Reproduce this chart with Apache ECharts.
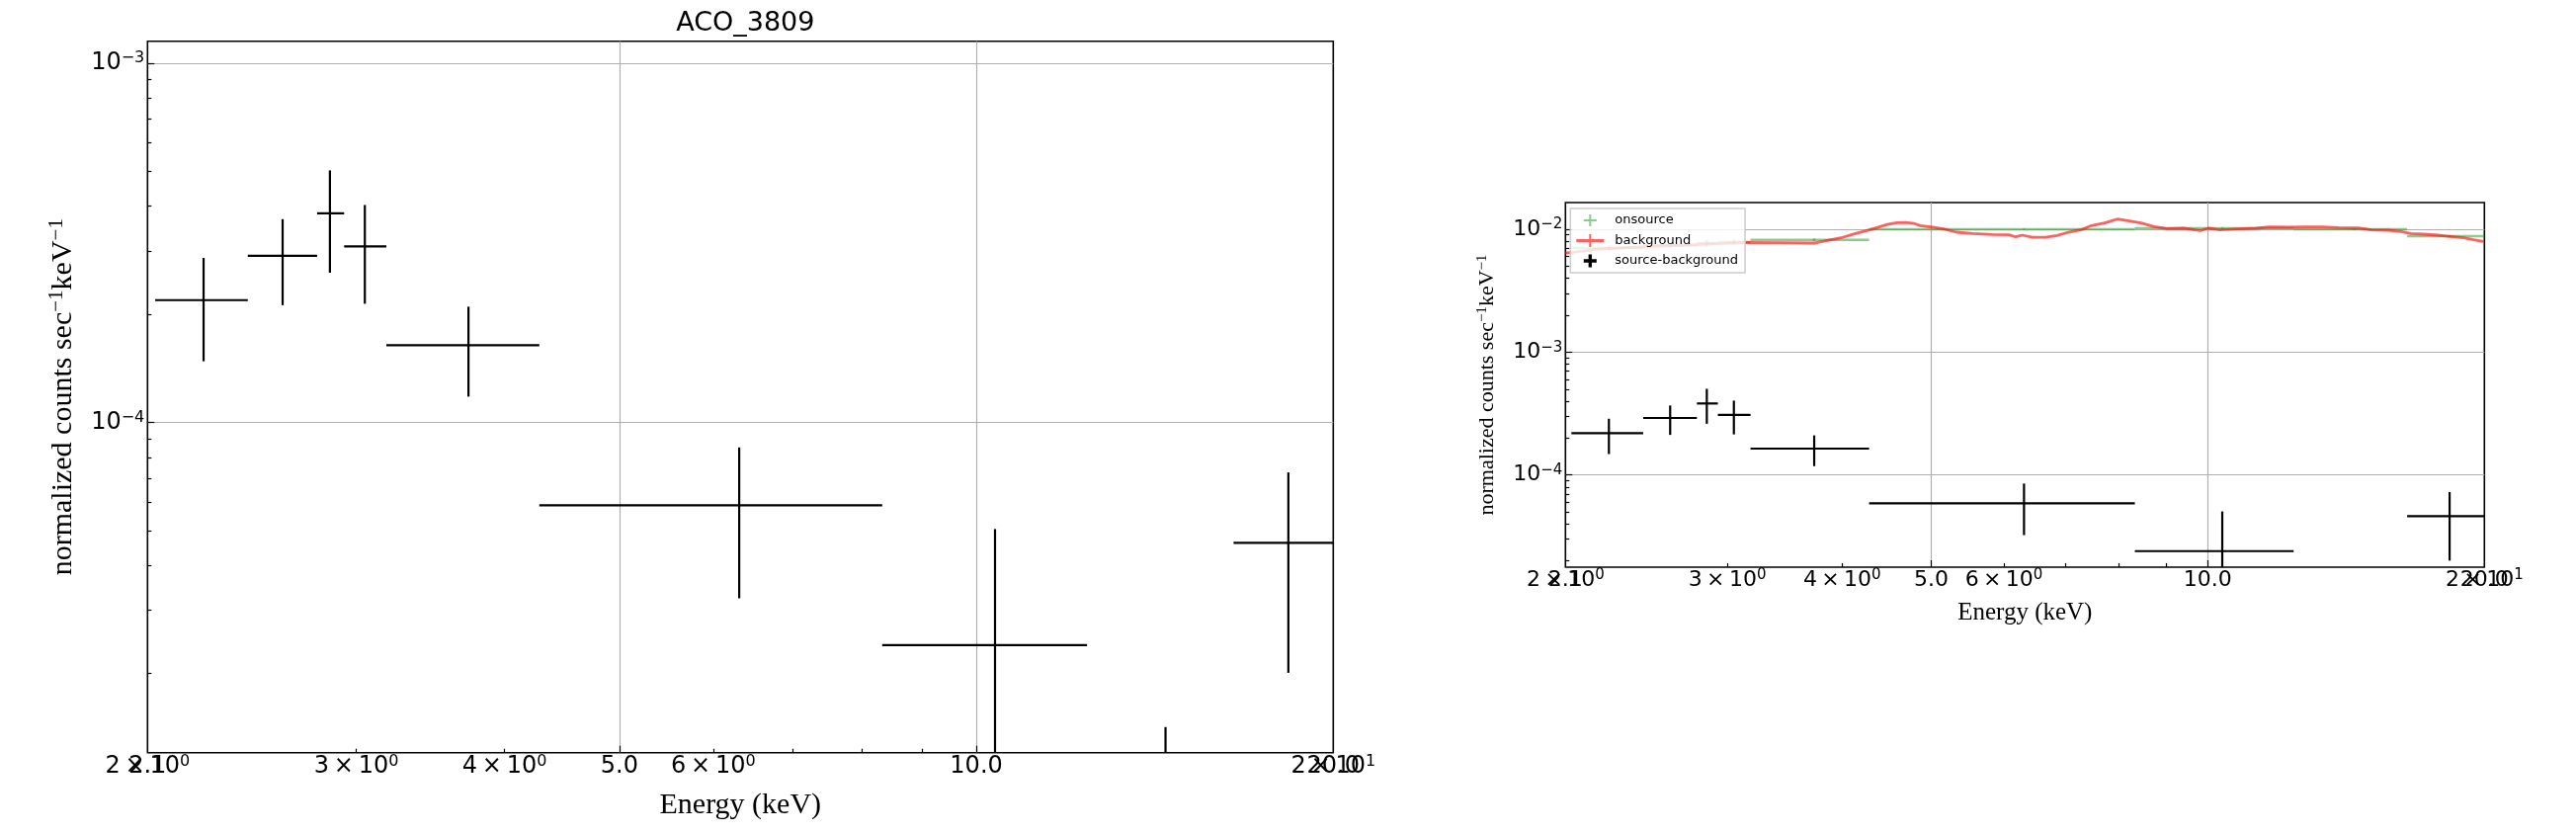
<!DOCTYPE html>
<html>
<head>
<meta charset="utf-8">
<script src="https://cdn.jsdelivr.net/npm/echarts@6/dist/echarts.min.js"></script>
<style>
html,body{margin:0;padding:0;background:#fff;}
#c{width:2607px;height:842px;}
</style>
</head>
<body>
<div id="c"></div>
<script>
// ---------------- data ----------------
const binLo     = [2.03, 2.43, 2.78, 2.93, 3.18, 4.28, 8.33, 12.40, 16.48];
const binHi     = [2.43, 2.78, 2.93, 3.18, 4.28, 8.33, 12.40, 16.48, 20.40];
const binCenter = [2.23, 2.60, 2.85, 3.05, 3.73, 6.31, 10.37, 14.44, 18.33];

// source - background (normalized counts / s / keV)
const srcBkg     = [2.19e-4, 2.91e-4, 3.82e-4, 3.09e-4, 1.64e-4, 5.88e-5, 2.40e-5, 2.0e-6, 4.62e-5];
const srcBkgLow  = [1.48e-4, 2.12e-4, 2.61e-4, 2.14e-4, 1.18e-4, 3.24e-5, null, null, 2.01e-5];
const srcBkgHigh = [2.87e-4, 3.68e-4, 5.03e-4, 4.03e-4, 2.10e-4, 8.52e-5, 5.05e-5, 1.42e-5, 7.26e-5];

// onsource
const onsrc    = [7.03e-3, 7.40e-3, 7.70e-3, 7.86e-3, 8.20e-3, 1.00e-2, 1.02e-2, 1.00e-2, 8.78e-3];
const onsrcErr = [3.0e-4, 3.2e-4, 4.5e-4, 3.6e-4, 2.0e-4, 1.2e-4, 1.4e-4, 1.6e-4, 1.8e-4];

// background spectrum
const bkgE = [2.000, 2.185, 2.535, 2.941, 3.152, 3.412, 3.737, 3.831, 3.988, 4.126,
              4.296, 4.479, 4.592, 4.688, 4.786, 4.865, 5.000, 5.156, 5.328, 5.554,
              5.834, 6.079, 6.181, 6.284, 6.442, 6.658, 6.853, 7.053, 7.290, 7.473,
              7.723, 7.971, 8.182, 8.458, 8.741, 9.034, 9.414, 9.813, 10.02, 10.31,
              10.83, 11.29, 11.67, 12.26, 12.78, 13.32, 13.88, 14.58, 15.07, 15.71,
              16.23, 16.64, 17.20, 17.78, 18.37, 18.98, 19.46, 19.95];
const bkgRate = [6.41e-3, 6.91e-3, 7.30e-3, 7.64e-3, 7.79e-3, 7.76e-3, 7.72e-3, 8.01e-3, 8.51e-3, 9.17e-3,
                 9.94e-3, 1.093e-2, 1.132e-2, 1.138e-2, 1.117e-2, 1.071e-2, 1.043e-2, 1.006e-2, 9.46e-3, 9.23e-3,
                 9.07e-3, 9.00e-3, 8.67e-3, 8.95e-3, 8.62e-3, 8.62e-3, 8.90e-3, 9.46e-3, 9.94e-3, 1.071e-2,
                 1.124e-2, 1.210e-2, 1.175e-2, 1.124e-2, 1.051e-2, 1.013e-2, 1.019e-2, 9.76e-3, 1.019e-2, 9.87e-3,
                 1.006e-2, 1.019e-2, 1.043e-2, 1.038e-2, 1.043e-2, 1.043e-2, 1.032e-2, 1.024e-2, 9.87e-3, 9.82e-3,
                 9.58e-3, 9.23e-3, 9.12e-3, 8.95e-3, 8.74e-3, 8.51e-3, 8.20e-3, 7.96e-3];

// ---------------- axes / ticks ----------------
const xMin = 2.0, xMax = 20.0;
const xSciTickValues = [2, 3, 4, 6, 20];
const xSciTickMant   = ['2', '3', '4', '6', '2'];
const xSciTickExp    = ['0', '0', '0', '0', '1'];
const xPlainTickValues = [2, 5, 10, 20];
const xPlainTickLabels = ['2.1', '5.0', '10.0', '20.0'];
const xMajorTicks = [5, 10];
const xMinorTicks = [3, 4, 6, 7, 8, 9];

const yTickValues = [1e-4, 1e-3, 1e-2];
const yTickExps   = ['−4', '−3', '−2'];
const yMinorTicks = [2e-5, 3e-5, 4e-5, 5e-5, 6e-5, 7e-5, 8e-5, 9e-5,
                     2e-4, 3e-4, 4e-4, 5e-4, 6e-4, 7e-4, 8e-4, 9e-4,
                     2e-3, 3e-3, 4e-3, 5e-3, 6e-3, 7e-3, 8e-3, 9e-3];
const yRangeLeft  = [1.205e-5, 1.151e-3];
const yRangeRight = [1.777e-5, 1.649e-2];

const FONT = 'DejaVu Sans';
const SERIF = 'Liberation Serif';
const GRIDC = '#b0b0b0';

function findIdx(vals, v) {
  for (let i = 0; i < vals.length; i++) if (Math.abs(v / vals[i] - 1) < 1e-6) return i;
  return -1;
}
function rich(fs, sfs, lh, slh, fam) {
  return {
    m: {fontFamily: fam || FONT, fontSize: fs, lineHeight: lh, color: '#000'},
    s: {fontFamily: fam || FONT, fontSize: sfs, lineHeight: slh, verticalAlign: 'top', color: '#000'}
  };
}
const tickLine = {color: '#000', width: 1.2};

function xAxesFor(gi, fs, sfs, lh, slh, nameFs, nameGap) {
  return [
    {
      gridIndex: gi, type: 'log', logBase: 10, min: xMin, max: xMax, position: 'bottom',
      axisLine: {show: false, onZero: false},
      axisTick: {show: true, inside: true, length: 4, customValues: xMinorTicks, lineStyle: tickLine},
      axisLabel: {
        show: true, margin: 1, customValues: xSciTickValues, rich: rich(fs, sfs, lh, slh),
        formatter: function (v) {
          const i = findIdx(xSciTickValues, v);
          return i < 0 ? '' : '{m|' + xSciTickMant[i] + '\u2009×\u200910}{s|' + xSciTickExp[i] + '}';
        }
      },
      splitLine: {show: false}
    },
    {
      gridIndex: gi, type: 'log', logBase: 10, min: xMin, max: xMax, position: 'bottom',
      axisLine: {show: false, onZero: false},
      axisTick: {show: true, inside: true, length: 7, customValues: xMajorTicks, lineStyle: tickLine},
      axisLabel: {
        show: true, margin: 1, customValues: xPlainTickValues, rich: rich(fs, sfs, lh, slh),
        formatter: function (v) {
          const i = findIdx(xPlainTickValues, v);
          return i < 0 ? '' : '{m|' + xPlainTickLabels[i] + '}';
        }
      },
      splitLine: {show: true, lineStyle: {color: GRIDC, width: 1.2}},
      name: 'Energy (keV)', nameLocation: 'middle', nameGap: nameGap,
      nameTextStyle: {fontFamily: SERIF, fontSize: nameFs, color: '#000'}
    }
  ];
}
function yAxesFor(gi, range, fs, sfs, lh, slh, nameFs, nameSupFs, nameGap) {
  return [
    {
      gridIndex: gi, type: 'log', logBase: 10, min: range[0], max: range[1], position: 'left',
      axisLine: {show: false, onZero: false},
      axisTick: {show: true, inside: true, length: 7, customValues: yTickValues, lineStyle: tickLine},
      axisLabel: {
        show: true, margin: 3, customValues: yTickValues, rich: rich(fs, sfs, lh, slh),
        formatter: function (v) {
          const i = findIdx(yTickValues, v);
          return i < 0 ? '' : '{m|10}{s|' + yTickExps[i] + '}';
        }
      },
      splitLine: {show: true, lineStyle: {color: GRIDC, width: 1.2}},
      name: '{t|normalized counts sec}{u|−1}{t|keV}{u|−1}',
      nameLocation: 'middle', nameRotate: 90, nameGap: nameGap,
      nameTextStyle: {
        rich: {
          t: {fontFamily: SERIF, fontSize: nameFs, lineHeight: nameFs + 4, color: '#000'},
          u: {fontFamily: SERIF, fontSize: nameSupFs, lineHeight: nameSupFs, verticalAlign: 'top', color: '#000'}
        }
      }
    },
    {
      gridIndex: gi, type: 'log', logBase: 10, min: range[0], max: range[1], position: 'left',
      axisLine: {show: false, onZero: false},
      axisTick: {show: true, inside: true, length: 4, customValues: yMinorTicks, lineStyle: tickLine},
      axisLabel: {show: false},
      splitLine: {show: false}
    }
  ];
}

function errRender(color, lw) {
  return function (params, api) {
    const cs = params.coordSys;
    const X0 = cs.x, X1 = cs.x + cs.width, Y0 = cs.y, Y1 = cs.y + cs.height;
    const cx = api.value(0), cy = api.value(1);
    const c = api.coord([cx, cy]);
    const lo = api.coord([api.value(2), cy]);
    const hi = api.coord([api.value(3), cy]);
    const ylo = api.value(4), yhi = api.value(5);
    const bot = (isFinite(ylo) && ylo > 0) ? api.coord([cx, ylo])[1] : Y1 + 10;
    const top = api.coord([cx, yhi])[1];
    const cl = (v, a, b) => Math.max(a, Math.min(b, v));
    const children = [];
    const st = {stroke: color, lineWidth: lw, fill: null};
    if (c[1] >= Y0 && c[1] <= Y1) {
      children.push({type: 'line', shape: {x1: cl(lo[0], X0, X1), y1: c[1], x2: cl(hi[0], X0, X1), y2: c[1]}, style: st});
    }
    if (c[0] >= X0 && c[0] <= X1) {
      const ya = cl(top, Y0, Y1), yb = cl(bot, Y0, Y1);
      if (yb > ya) children.push({type: 'line', shape: {x1: c[0], y1: ya, x2: c[0], y2: yb}, style: st});
    }
    return {type: 'group', children: children};
  };
}

const srcData = binCenter.map((x, i) => [x, srcBkg[i], binLo[i], binHi[i], srcBkgLow[i], srcBkgHigh[i]]);
const onData  = binCenter.map((x, i) => [x, onsrc[i], binLo[i], binHi[i], onsrc[i] - onsrcErr[i], onsrc[i] + onsrcErr[i]]);
const bkgData = bkgE.map((e, i) => [e, bkgRate[i]]);

const GREEN = 'rgba(44,160,44,0.55)';
const RED = 'rgba(255,20,20,0.68)';
const BLACK = '#000000';

const anchor = 'M0,0h0.01v0.01h-0.01zM27.99,13.99h0.01v0.01h-0.01z';
const iconOn  = 'path://' + anchor + 'M7.5,6h13v2h-13zM13,1h2v12h-2z';
const iconBkg = 'path://' + anchor + 'M0,5.5h28v3h-28zM13,0.5h2v13h-2z';
const iconSrc = 'path://' + anchor + 'M7.5,5.35h13v3.3h-13zM12.35,0.5h3.3v13h-3.3z';

const option = {
  animation: false,
  backgroundColor: '#ffffff',
  title: {
    text: 'ACO_3809', left: 749.3, top: 5, textAlign: 'center',
    textStyle: {fontFamily: FONT, fontSize: 27, fontWeight: 'normal', color: '#000'}
  },
  legend: {
    orient: 'vertical', left: 1589.3, top: 211,
    padding: [5, 7, 5, 6], itemGap: 6.5, itemWidth: 28, itemHeight: 14,
    backgroundColor: 'rgba(255,255,255,0.8)', borderColor: '#cccccc', borderWidth: 1.5, borderRadius: 0,
    itemStyle: {borderWidth: 0},
    textStyle: {fontFamily: FONT, fontSize: 13, color: '#000', padding: [0, 0, 0, 6]},
    data: [
      {name: 'onsource', icon: iconOn, itemStyle: {color: GREEN}},
      {name: 'background', icon: iconBkg, itemStyle: {color: RED}},
      {name: 'source-background', icon: iconSrc, itemStyle: {color: BLACK}}
    ]
  },
  grid: [
    {left: 149.3, top: 41.7, width: 1200, height: 720, show: true, borderColor: '#000', borderWidth: 1.6, backgroundColor: 'transparent'},
    {left: 1584.3, top: 205, width: 930, height: 369, show: true, borderColor: '#000', borderWidth: 1.6, backgroundColor: 'transparent'}
  ],
  xAxis: [].concat(xAxesFor(0, 24, 16, 26, 14, 30, 38), xAxesFor(1, 22, 15, 24, 13, 25, 34)),
  yAxis: [].concat(yAxesFor(0, yRangeLeft, 24, 16, 26, 14, 30, 21, 68), yAxesFor(1, yRangeRight, 22, 15, 24, 13, 22, 15, 66)),
  series: [
    {
      name: 'source-background', type: 'custom', xAxisIndex: 1, yAxisIndex: 0,
      renderItem: errRender(BLACK, 2.2), data: srcData, itemStyle: {color: BLACK}, silent: true
    },
    {
      name: 'onsource', type: 'custom', xAxisIndex: 3, yAxisIndex: 2,
      renderItem: errRender(GREEN, 2.6), data: onData, itemStyle: {color: GREEN}, silent: true
    },
    {
      name: 'background', type: 'line', xAxisIndex: 3, yAxisIndex: 2,
      data: bkgData, showSymbol: false, symbol: 'none', smooth: false,
      lineStyle: {color: RED, width: 2.8}, itemStyle: {color: RED}, silent: true
    },
    {
      name: 'source-background', type: 'custom', xAxisIndex: 3, yAxisIndex: 2,
      renderItem: errRender(BLACK, 2.2), data: srcData, itemStyle: {color: BLACK}, silent: true
    }
  ]
};

const chart = echarts.init(document.getElementById('c'), null, {renderer: 'canvas', width: 2607, height: 842});
chart.setOption(option);
</script>
</body>
</html>
